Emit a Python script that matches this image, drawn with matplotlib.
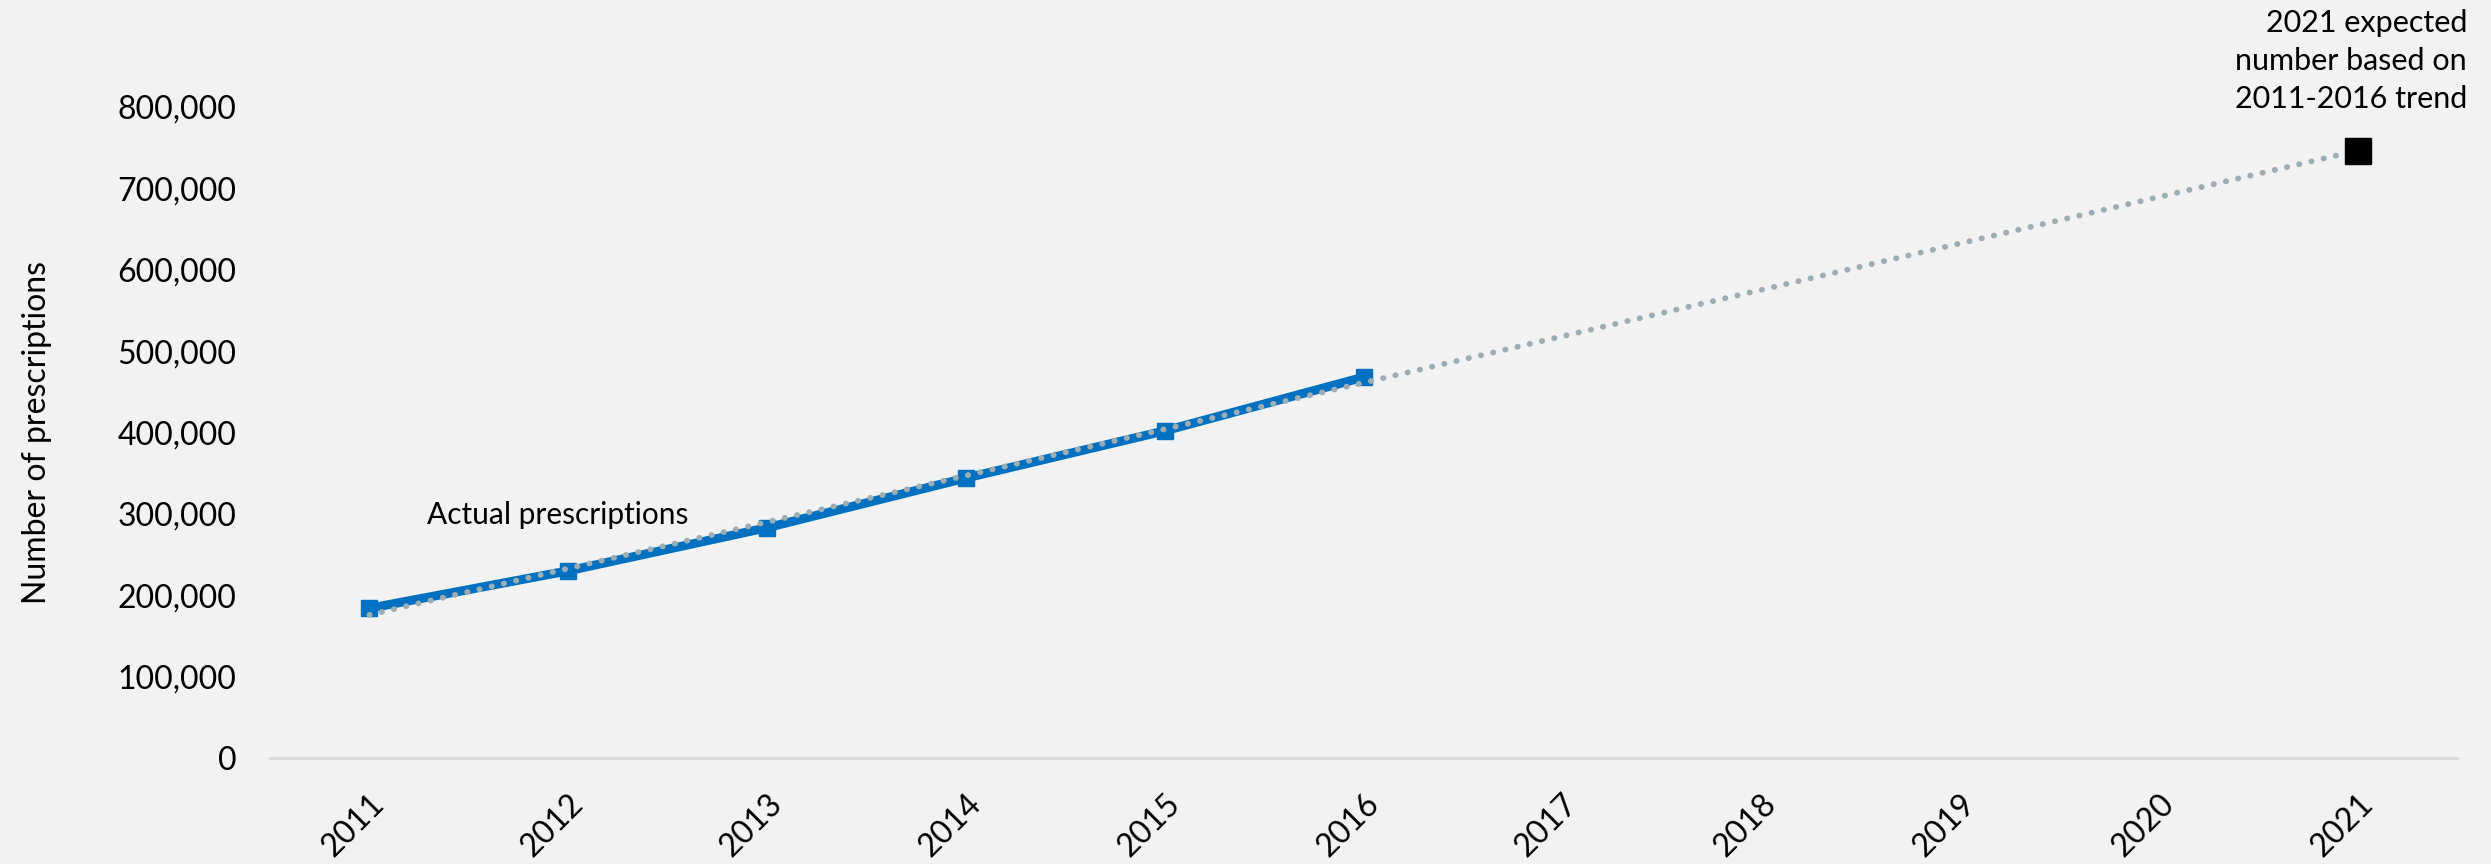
import matplotlib.pyplot as plt
import numpy as np
from matplotlib.ticker import FuncFormatter

plt.rcParams['font.family'] = ['Lato', 'DejaVu Sans']

years = ['2011', '2012', '2013', '2014', '2015', '2016',
         '2017', '2018', '2019', '2020', '2021']
actual = [184000, 230000, 283000, 344000, 402000, 468000]

# linear trend from the actual years, carried on to 2021
xa = np.arange(len(actual))
xall = np.arange(len(years))
coef = np.polyfit(xa, actual, 1)
trend = np.polyval(coef, xall)
expected_2021 = trend[-1]

bg = '#F2F2F2'
fig = plt.figure(figsize=(24.91, 8.64), dpi=100, facecolor=bg)
ax = fig.add_axes([0.1084, 0.1227, 0.878, 0.7535])
ax.set_facecolor(bg)

ax.plot(xa, actual, color='#0070C0', lw=6.5, marker='s', ms=11,
        solid_joinstyle='miter', zorder=3)
ax.plot(xall, trend, color='#9DADB4', lw=4.2, linestyle=(0, (0.05, 2.1)),
        dash_capstyle='round', zorder=4)
ax.plot([xall[-1]], [expected_2021], marker='s', ms=19, color='black',
        ls='none', zorder=5, clip_on=False)

ax.text(0.29, 298000, 'Actual prescriptions', fontsize=21.5, va='center', ha='left')
ax.text(10.55, 792000, '2021 expected\nnumber based on\n2011-2016 trend',
        fontsize=22, ha='right', va='bottom', multialignment='right',
        linespacing=1.45)

ax.set_xlim(-0.5, 10.5)
ax.set_ylim(0, 800000)
ax.set_xticks(xall)
ax.set_xticklabels(years, rotation=45, ha='right', rotation_mode='anchor')
ax.set_yticks(np.arange(0, 800001, 100000))
ax.yaxis.set_major_formatter(FuncFormatter(lambda v, p: '{:,.0f}'.format(v)))
ax.tick_params(axis='both', length=0, labelsize=23)
ax.tick_params(axis='y', pad=24)
ax.tick_params(axis='x', pad=22)

for s in ['top', 'right', 'left']:
    ax.spines[s].set_visible(False)
ax.spines['bottom'].set_color('#D9D9D9')
ax.spines['bottom'].set_linewidth(2)

ax.set_ylabel('Number of prescriptions', fontsize=23)
ax.yaxis.set_label_coords(-0.0995, 0.5)

fig.savefig('out.png', dpi=100, facecolor=bg)
